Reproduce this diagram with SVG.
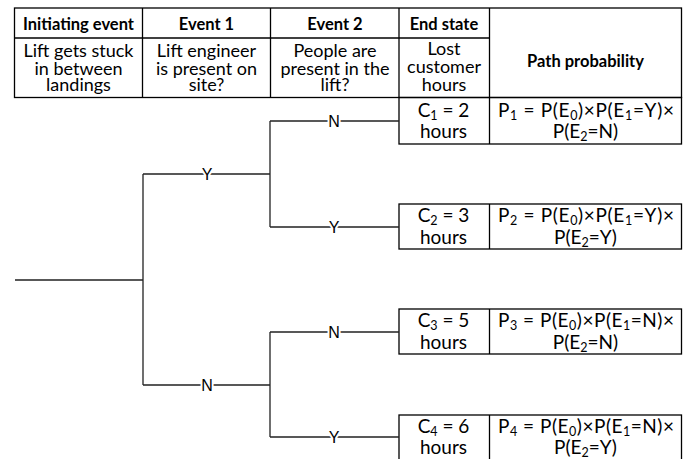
<svg xmlns="http://www.w3.org/2000/svg" width="688" height="459" viewBox="0 0 688 459">
<style>
.b{fill:none;stroke:#000;stroke-width:1.3}
.t{font-family:Lato,"Liberation Sans",sans-serif;font-size:18px;fill:#000;text-anchor:middle}
.o{font-family:Lato,"Liberation Sans",sans-serif;font-size:19px;fill:#000;text-anchor:middle}
.h{font-family:Lato,"Liberation Sans",sans-serif;font-size:16.5px;font-weight:bold;fill:#000;text-anchor:middle}
.ln{fill:none;stroke:#222;stroke-width:1.3}
.lb{font-family:"Liberation Sans",Arial,sans-serif;font-size:16px;fill:#000;text-anchor:middle;stroke:#fff;stroke-width:4;paint-order:stroke}
.s{font-size:12.5px}
</style>
<rect width="688" height="459" fill="#fff"/>
<g id="table">
<rect class="b" x="14.5" y="8" width="667" height="89.5"/>
<line class="b" x1="14.5" y1="38" x2="489.5" y2="38"/>
<line class="b" x1="142.5" y1="8" x2="142.5" y2="97.5"/>
<line class="b" x1="270.5" y1="8" x2="270.5" y2="97.5"/>
<line class="b" x1="399" y1="8" x2="399" y2="97.5"/>
<line class="b" x1="489.5" y1="8" x2="489.5" y2="97.5"/>
<text class="h" x="78.5" y="30">Initiating event</text>
<text class="h" x="206.5" y="30">Event 1</text>
<text class="h" x="335" y="30">Event 2</text>
<text class="h" x="444" y="30">End state</text>
<text class="t" x="78.5" y="57">Lift gets stuck</text>
<text class="t" x="78.5" y="74.5">in between</text>
<text class="t" x="78.5" y="91">landings</text>
<text class="t" x="206.5" y="57">Lift engineer</text>
<text class="t" x="206.5" y="74.5">is present on</text>
<text class="t" x="206.5" y="91">site?</text>
<text class="t" x="335" y="57">People are</text>
<text class="t" x="335" y="74.5">present in the</text>
<text class="t" x="335" y="91">lift?</text>
<text class="t" x="444" y="55">Lost</text>
<text class="t" x="444" y="73">customer</text>
<text class="t" x="444" y="91">hours</text>
<text class="h" x="585.5" y="67">Path probability</text>
</g>
<g id="out1">
<rect class="b" x="399" y="97.5" width="282.5" height="46.5"/>
<line class="b" x1="489.5" y1="97.5" x2="489.5" y2="144"/>
<text class="o" x="443.5" y="117">C<tspan class="s" dy="3">1</tspan><tspan dy="-3"> = 2</tspan></text>
<text class="o" x="443.5" y="138">hours</text>
<text class="o" x="586" y="117" textLength="176" lengthAdjust="spacing">P<tspan class="s" dy="3">1</tspan><tspan dy="-3"> = P(E</tspan><tspan class="s" dy="3">0</tspan><tspan dy="-3">)×P(E</tspan><tspan class="s" dy="3">1</tspan><tspan dy="-3">=Y)×</tspan></text>
<text class="o" x="585.5" y="138">P(E<tspan class="s" dy="3">2</tspan><tspan dy="-3">=N)</tspan></text>
</g>
<g id="out2">
<rect class="b" x="399" y="204" width="282.5" height="45"/>
<line class="b" x1="489.5" y1="204" x2="489.5" y2="249"/>
<text class="o" x="443.5" y="222">C<tspan class="s" dy="3">2</tspan><tspan dy="-3"> = 3</tspan></text>
<text class="o" x="443.5" y="243.5">hours</text>
<text class="o" x="586" y="222" textLength="176" lengthAdjust="spacing">P<tspan class="s" dy="3">2</tspan><tspan dy="-3"> = P(E</tspan><tspan class="s" dy="3">0</tspan><tspan dy="-3">)×P(E</tspan><tspan class="s" dy="3">1</tspan><tspan dy="-3">=Y)×</tspan></text>
<text class="o" x="585.5" y="243.5">P(E<tspan class="s" dy="3">2</tspan><tspan dy="-3">=Y)</tspan></text>
</g>
<g id="out3">
<rect class="b" x="399" y="309" width="282.5" height="45"/>
<line class="b" x1="489.5" y1="309" x2="489.5" y2="354"/>
<text class="o" x="443.5" y="327">C<tspan class="s" dy="3">3</tspan><tspan dy="-3"> = 5</tspan></text>
<text class="o" x="443.5" y="348.5">hours</text>
<text class="o" x="586" y="327" textLength="176" lengthAdjust="spacing">P<tspan class="s" dy="3">3</tspan><tspan dy="-3"> = P(E</tspan><tspan class="s" dy="3">0</tspan><tspan dy="-3">)×P(E</tspan><tspan class="s" dy="3">1</tspan><tspan dy="-3">=N)×</tspan></text>
<text class="o" x="585.5" y="348.5">P(E<tspan class="s" dy="3">2</tspan><tspan dy="-3">=N)</tspan></text>
</g>
<g id="out4">
<rect class="b" x="399" y="415" width="282.5" height="50"/>
<line class="b" x1="489.5" y1="415" x2="489.5" y2="465"/>
<text class="o" x="443.5" y="433">C<tspan class="s" dy="3">4</tspan><tspan dy="-3"> = 6</tspan></text>
<text class="o" x="443.5" y="453.5">hours</text>
<text class="o" x="586" y="433" textLength="176" lengthAdjust="spacing">P<tspan class="s" dy="3">4</tspan><tspan dy="-3"> = P(E</tspan><tspan class="s" dy="3">0</tspan><tspan dy="-3">)×P(E</tspan><tspan class="s" dy="3">1</tspan><tspan dy="-3">=N)×</tspan></text>
<text class="o" x="585.5" y="453.5">P(E<tspan class="s" dy="3">2</tspan><tspan dy="-3">=Y)</tspan></text>
</g>
<g id="connectors">
<path class="ln" d="M15,280H143M143,174V385M143,174H270M143,385H270M270,121V227M270,332V437M270,121H399M270,227H399M270,332H399M270,437H399"/>
<text class="lb" x="207" y="180">Y</text>
<text class="lb" x="207" y="391">N</text>
<text class="lb" x="334" y="127">N</text>
<text class="lb" x="334" y="233">Y</text>
<text class="lb" x="334" y="338">N</text>
<text class="lb" x="334" y="443">Y</text>
</g>
</svg>
